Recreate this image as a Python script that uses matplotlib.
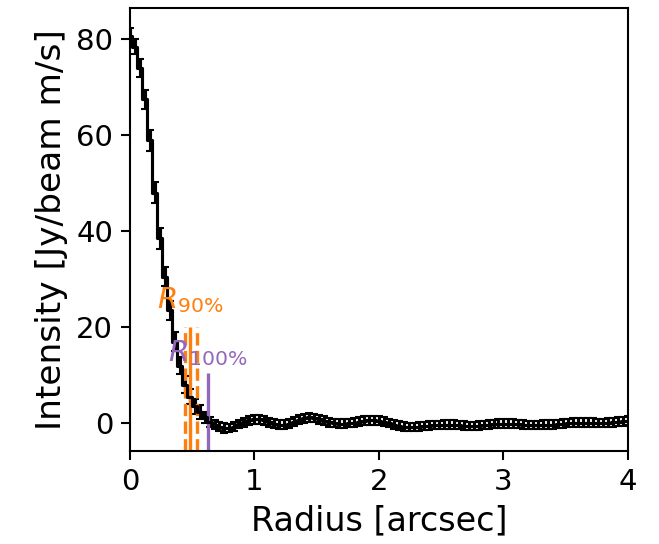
import numpy as np
import matplotlib.pyplot as plt

# Azimuthally averaged intensity profile, 0.04" bins
radius = np.round(np.arange(101) * 0.04, 2)
intensity = [
    80.8, 78.5, 74.0, 67.5, 59.0, 48.0, 38.5, 30.5, 23.5, 17.0,
    12.0, 8.0, 5.5, 3.5, 2.3, 1.2, 0.3, -0.3, -0.7, -1.0,
    -1.0, -0.7, -0.2, 0.2, 0.6, 0.8, 0.8, 0.6, 0.2, -0.1,
    -0.3, -0.3, -0.1, 0.3, 0.7, 1.0, 1.2, 1.1, 0.8, 0.5,
    0.2, 0.0, -0.1, -0.1, 0.0, 0.1, 0.3, 0.5, 0.6, 0.6,
    0.5, 0.3, 0.0, -0.3, -0.5, -0.7, -0.8, -0.8, -0.7, -0.6,
    -0.5, -0.4, -0.4, -0.3, -0.3, -0.3, -0.4, -0.5, -0.6, -0.6,
    -0.5, -0.4, -0.3, -0.2, -0.1, -0.1, -0.1, -0.1, -0.2, -0.3,
    -0.4, -0.4, -0.4, -0.3, -0.3, -0.3, -0.2, -0.1, 0.0, 0.1,
    0.1, 0.1, 0.1, 0.1, 0.0, 0.0, 0.1, 0.2, 0.3, 0.4,
    0.5,
]
intensity_err = [
    1.5, 1.5, 1.8, 2.0, 2.2, 2.2, 2.2, 2.0, 2.0, 2.0,
    1.8, 1.8, 1.6, 1.5, 1.4, 1.2, 1.0, 1.0, 1.0, 1.0,
] + [0.9] * 81

# Characteristic radii [arcsec], line heights and label heights
r90 = 0.487
r90_lo, r90_hi = 0.447, 0.540
r100 = 0.624
r90_top, r100_top = 20.0, 10.5
r90_label_y, r100_label_y = 22.5, 11.5

fig = plt.figure(figsize=(659 / 150, 544 / 150), dpi=150)
ax = fig.add_axes([0.197, 0.171, 0.756, 0.814])

ax.errorbar(radius, intensity, yerr=intensity_err, color="k",
            drawstyle="steps-mid", capsize=2, lw=1.5)

ymin, ymax = -5.8, 86.5
ax.vlines(r90, ymin, r90_top, color="C1", lw=1.6)
ax.vlines([r90_lo, r90_hi], ymin, r90_top, color="C1", lw=1.6, linestyles="--")
ax.vlines(r100, ymin, r100_top, color="C4", lw=1.6)

ax.text(r90, r90_label_y, r"$R_{90\%}$", color="C1", ha="center",
        va="bottom", fontsize=14)
ax.text(r100, r100_label_y, r"$R_{100\%}$", color="C4", ha="center",
        va="bottom", fontsize=14)

ax.set_xlim(0, 4)
ax.set_ylim(ymin, ymax)
ax.set_xticks([0, 1, 2, 3, 4])
ax.set_yticks([0, 20, 40, 60, 80])
ax.tick_params(labelsize=14, length=4.5, width=1.0)
for spine in ax.spines.values():
    spine.set_linewidth(1.0)
ax.set_xlabel("Radius [arcsec]", fontsize=16)
ax.set_ylabel("Intensity [Jy/beam m/s]", fontsize=16.5)

fig.savefig("out.png", dpi=150)
